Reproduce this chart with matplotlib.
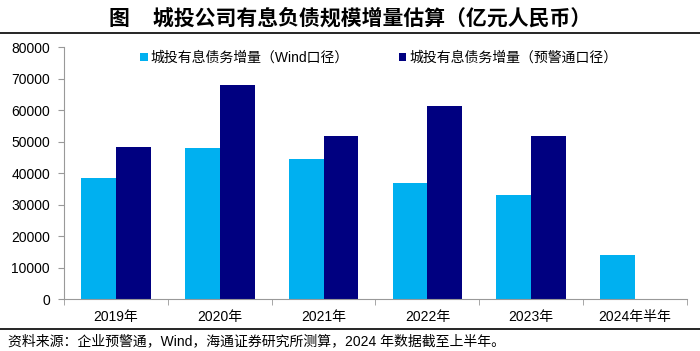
import matplotlib
matplotlib.use('Agg')
from matplotlib import pyplot as plt
import numpy as np

plt.rcParams['font.family'] = ['Liberation Sans', 'Noto Sans CJK SC']

categories = ['2019年', '2020年', '2021年', '2022年', '2023年', '2024年半年']
wind_vals = [38400, 47900, 44400, 36800, 33000, 14000]
warn_vals = [48200, 67900, 51700, 61200, 51700, np.nan]
label_wind = '城投有息债务增量（Wind口径）'
label_warn = '城投有息债务增量（预警通口径）'

fig = plt.figure(figsize=(7, 3.51), dpi=100)
ax = fig.add_axes([0.0914, 0.148, 0.890, 0.718])

x = np.arange(len(categories))
w = 0.335
ax.bar(x - w / 2, wind_vals, w, color='#00B0F0', label=label_wind)
ax.bar(x + w / 2, warn_vals, w, color='#000080', label=label_warn)

ax.set_xlim(-0.5, len(categories) - 0.5)
ax.set_ylim(0, 80000)
ax.set_yticks(np.arange(0, 80001, 10000))
ax.set_xticks(x)
ax.set_xticklabels(categories, fontsize=10)
ax.set_xticks(np.arange(-0.5, len(categories), 1), minor=True)
ax.tick_params(axis='x', which='major', length=0, pad=8)
ax.tick_params(axis='x', which='minor', length=4, color='#999999', direction='out')
ax.tick_params(axis='y', length=4, color='#999999', labelsize=10, pad=6)

for s in ['top', 'right']:
    ax.spines[s].set_visible(False)
for s in ['left', 'bottom']:
    ax.spines[s].set_color('#999999')

ax.legend(loc='upper left', bbox_to_anchor=(0.102, 1.035), ncol=2, frameon=False,
          fontsize=10, handlelength=0.55, handleheight=0.55, handletextpad=0.2,
          columnspacing=3.6)

fig.text(0.5, 0.948, '图    城投公司有息负债规模增量估算（亿元人民币）', ha='center', va='center',
         fontsize=15, fontweight='bold')
fig.add_artist(plt.Line2D([0, 1], [0.906, 0.906], color='black', lw=1.2))
fig.add_artist(plt.Line2D([0, 1], [0.063, 0.063], color='black', lw=1.2))
fig.text(0.012, 0.028, '资料来源：企业预警通，Wind，海通证券研究所测算，2024 年数据截至上半年。',
         ha='left', va='center', fontsize=10)

fig.savefig('out.png', dpi=100)
